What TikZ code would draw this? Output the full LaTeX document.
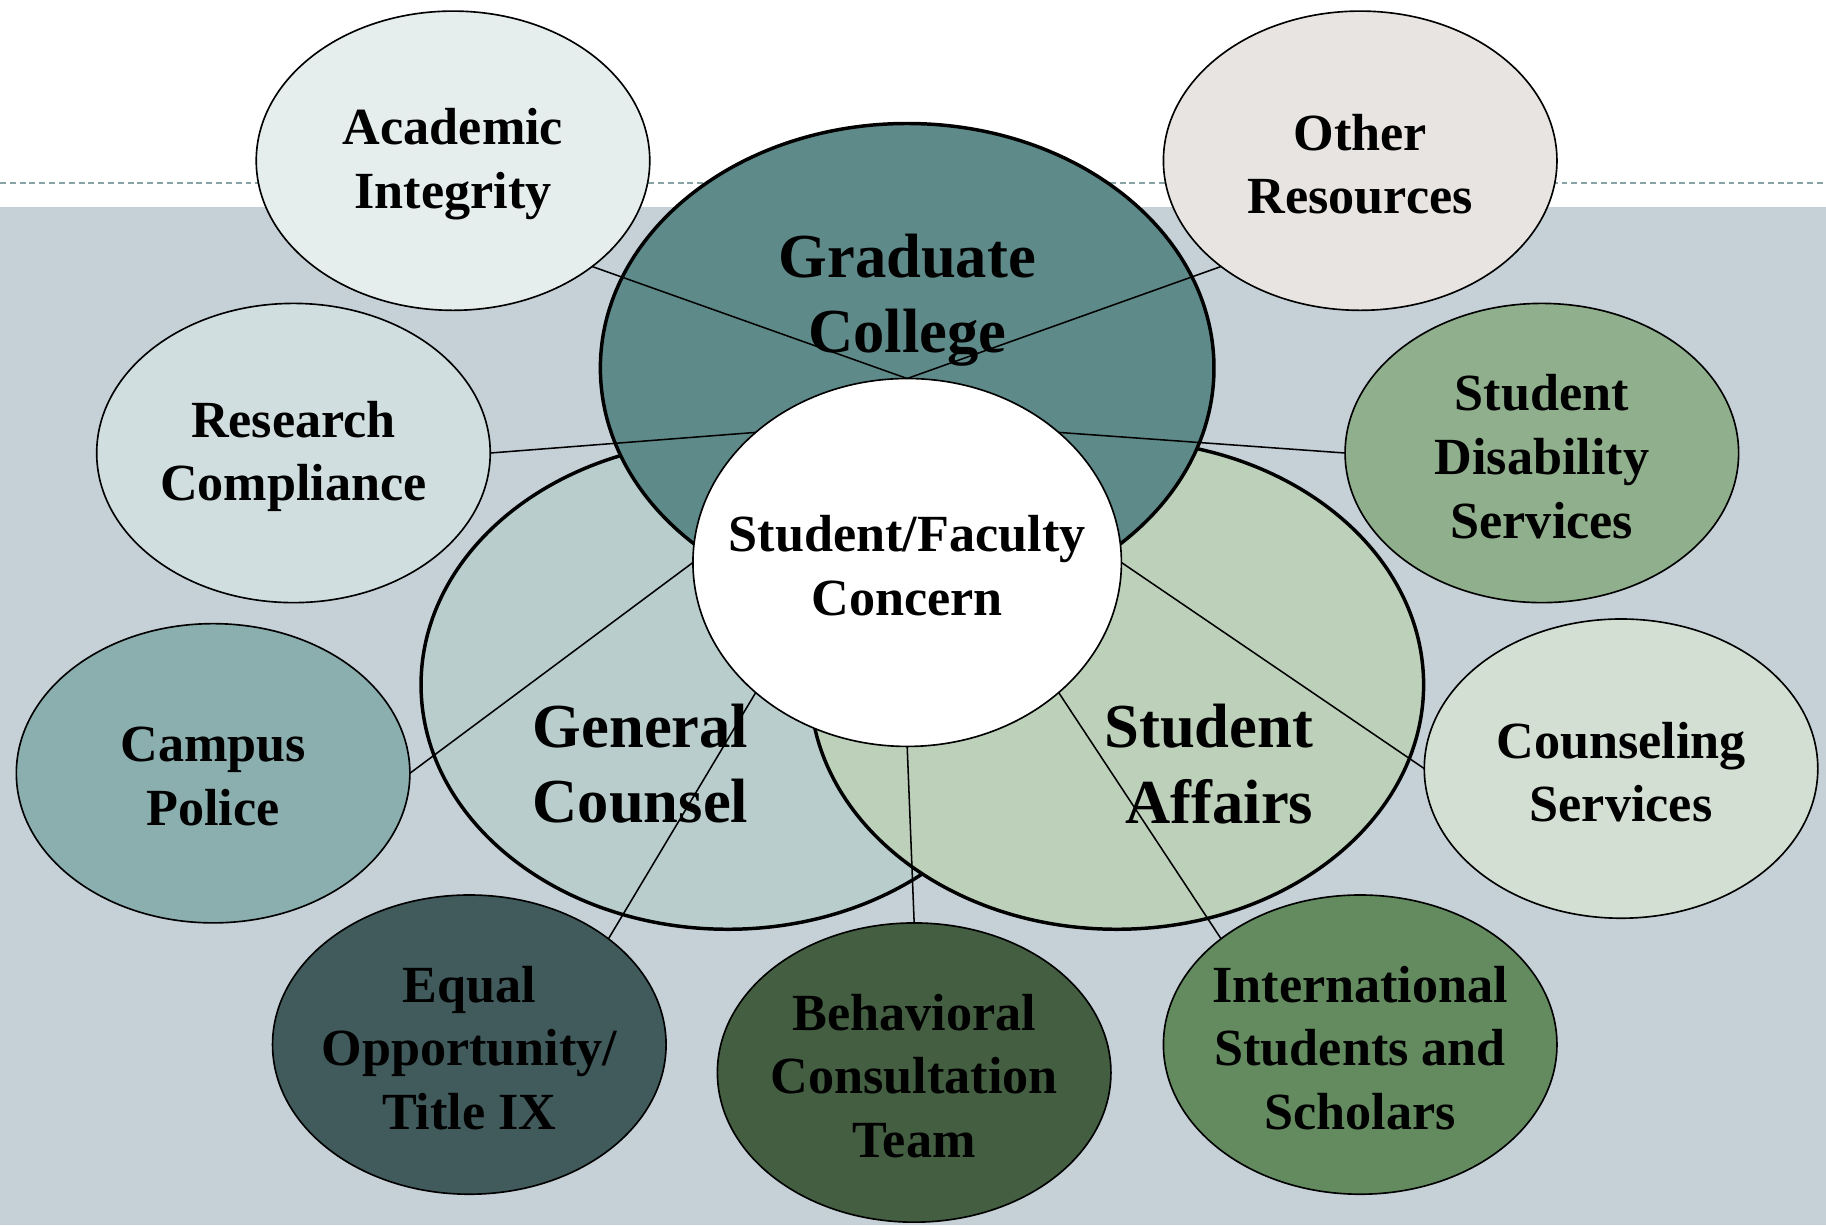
\documentclass[tikz,border=0pt]{standalone}
\usepackage{fontspec}
\setmainfont{Liberation Serif}
\usetikzlibrary{shapes.geometric}
\definecolor{bgc}{HTML}{C5D1D7}
\definecolor{dashc}{HTML}{87A3A5}
\definecolor{gradc}{HTML}{5F8A8A}
\definecolor{genc}{HTML}{B8CDCC}
\definecolor{safc}{HTML}{BDD1BA}
\definecolor{acadc}{HTML}{E5EEED}
\definecolor{othc}{HTML}{E7E4E1}
\definecolor{resc}{HTML}{D0DEDF}
\definecolor{sdsc}{HTML}{90AF8C}
\definecolor{campc}{HTML}{8BAEAF}
\definecolor{counc}{HTML}{D4DFD3}
\definecolor{equc}{HTML}{415A5C}
\definecolor{behc}{HTML}{435E41}
\definecolor{intc}{HTML}{638B5F}
\begin{document}
\begin{tikzpicture}[x=0.02cm,y=-0.02cm,
  sat/.style={ellipse, draw=black, line width=0.8pt, minimum width=6.76cm, minimum height=5.14cm, inner sep=0pt, outer sep=0pt},
  big/.style={ellipse, draw=black, line width=1.7pt, minimum width=10.54cm, minimum height=8.4cm, inner sep=0pt, outer sep=0pt},
  lbl/.style={align=center, font=\fontsize{25.5}{31.2}\selectfont\bfseries, inner sep=0pt, yshift=-0.06cm},
  biglbl/.style={align=center, font=\fontsize{30.6}{36.8}\selectfont\bfseries, inner sep=0pt},
  conn/.style={draw=black, line width=0.75pt}]
\useasboundingbox (0,0) rectangle (1568,1052);
\fill[white] (0,0) rectangle (1568,1052);
\fill[bgc] (0,178) rectangle (1568,1052);
\draw[dashc, line width=0.8pt, dash pattern=on 2.9pt off 1.9pt] (0,157) -- (1568,157);
% big ellipses
\node[big, fill=genc] (gen) at (625,588) {};
\node[big, fill=safc] (saf) at (959,588) {};
\node[big, fill=gradc] (grad) at (779,316) {};
\node[biglbl] (gradl) at (779,258) {Graduate\\College};
\node[biglbl] (genl) at (550,656) {General\\Counsel};
\node[biglbl, align=right, anchor=east] (safl) at (1128,656) {Student\\Affairs};
% satellites
\node[sat, fill=acadc] (acad) at (389,138) {};
\node[sat, fill=othc] (oth) at (1168,138) {};
\node[sat, fill=resc] (res) at (252,389) {};
\node[sat, fill=sdsc] (sds) at (1324,389) {};
\node[sat, fill=campc] (camp) at (183,664) {};
\node[sat, fill=counc] (coun) at (1392,660) {};
\node[sat, fill=equc] (equ) at (403,897) {};
\node[sat, fill=behc] (beh) at (785,921) {};
\node[sat, fill=intc] (int) at (1168,897) {};
% center
\node[ellipse, draw=black, line width=0.8pt, fill=white, minimum width=7.36cm, minimum height=6.32cm, inner sep=0pt, outer sep=0pt] (ctr) at (779,483) {};
% connectors
\draw[conn] (acad.south east) -- (ctr.north);
\draw[conn] (oth.south west) -- (ctr.north);
\draw[conn] (res.east) -- (ctr.north west);
\draw[conn] (sds.west) -- (ctr.north east);
\draw[conn] (camp.east) -- (ctr.west);
\draw[conn] (coun.west) -- (ctr.east);
\draw[conn] (equ.north east) -- (ctr.south west);
\draw[conn] (beh.north) -- (ctr.south);
\draw[conn] (int.north west) -- (ctr.south east);
% labels
\node[lbl] at (ctr) {Student/Faculty\\Concern};
\node[lbl] at (acad) {Academic\\Integrity};
\node[lbl] at (oth) {Other\\Resources};
\node[lbl] at (res) {Research\\Compliance};
\node[lbl] at (sds) {Student\\Disability\\Services};
\node[lbl] at (camp) {Campus\\Police};
\node[lbl] at (coun) {Counseling\\Services};
\node[lbl] at (equ) {Equal\\Opportunity/\\Title IX};
\node[lbl] at (beh) {Behavioral\\Consultation\\Team};
\node[lbl] at (int) {International\\Students and\\Scholars};
\end{tikzpicture}
\end{document}
